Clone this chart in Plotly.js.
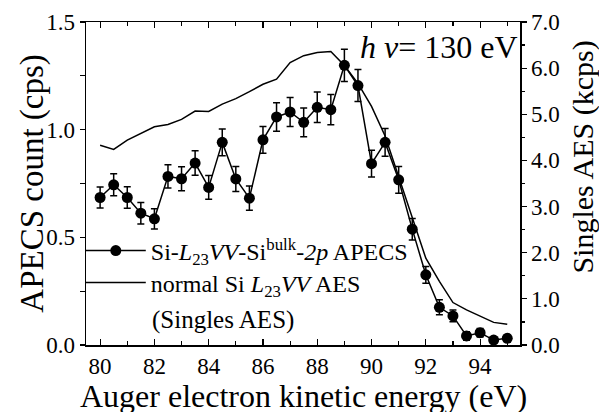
<!DOCTYPE html>
<html>
<head>
<meta charset="utf-8">
<script src="https://cdn.plot.ly/plotly-3.0.1.min.js"></script>
<style>
html,body{margin:0;padding:0;background:#fff}
#chart{width:599px;height:412px}
</style>
</head>
<body>
<div id="chart"></div>
<script>
var energy = [80,80.5,81,81.5,82,82.5,83,83.5,84,84.5,85,85.5,86,86.5,87,87.5,88,88.5,89,89.5,90,90.5,91,91.5,92,92.5,93,93.5,94,94.5,95];
var apecs = [0.685,0.744,0.685,0.612,0.586,0.783,0.772,0.845,0.732,0.941,0.771,0.682,0.953,1.059,1.082,1.034,1.104,1.093,1.299,1.205,0.842,0.941,0.767,0.538,0.326,0.175,0.135,0.042,0.057,0.023,0.031];
var apecsErr = [0.049,0.051,0.05,0.05,0.047,0.054,0.056,0.057,0.055,0.062,0.058,0.056,0.062,0.066,0.067,0.067,0.071,0.07,0.075,0.074,0.062,0.064,0.062,0.05,0.039,0.035,0.027,0.02,0.02,0.015,0.015];
var singles = [4.33,4.24,4.44,4.58,4.73,4.78,4.89,5.07,5.06,5.22,5.34,5.49,5.65,5.76,6.12,6.27,6.34,6.36,6.06,5.67,5.17,4.53,3.66,2.79,1.88,1.38,0.92,0.76,0.62,0.49,0.45];

function serif(size) { return {family: 'Liberation Serif', size: size, color: '#000'}; }

var traces = [
  {
    x: energy, y: apecs, type: 'scatter', mode: 'lines+markers',
    name: 'Si-<i>L</i><sub>23</sub><i>VV</i>-Si<sup>bulk</sup>-<i>2p</i> APECS',
    line: {color: '#000', width: 1.5},
    marker: {color: '#000', size: 11, symbol: 'circle'},
    error_y: {type: 'data', array: apecsErr, visible: true, color: '#000', thickness: 1.5, width: 3.5},
    yaxis: 'y', legend: 'legend'
  },
  {
    x: energy, y: singles, type: 'scatter', mode: 'lines',
    name: 'normal Si <i>L</i><sub>23</sub><i>VV</i> AES',
    line: {color: '#000', width: 1.5},
    yaxis: 'y2', legend: 'legend2'
  }
];

var legendBase = {
  xanchor: 'left', yanchor: 'middle',
  bgcolor: 'rgba(0,0,0,0)', borderwidth: 0,
  font: serif(24), itemwidth: 60, tracegroupgap: 0
};

var layout = {
  width: 599, height: 412,
  margin: {l: 86, r: 79, t: 22, b: 67},
  paper_bgcolor: '#fff', plot_bgcolor: '#fff',
  font: serif(23),
  showlegend: true,
  legend: Object.assign({}, legendBase, {x: -0.012, y: 0.291}),
  legend2: Object.assign({}, legendBase, {x: -0.012, y: 0.192}),
  xaxis: {
    range: [79.48, 95.47], dtick: 2, tick0: 80,
    ticks: 'inside', ticklen: 6, tickwidth: 1.2, tickcolor: '#000',
    minor: {dtick: 1, ticks: 'inside', ticklen: 4, tickcolor: '#000'},
    showline: true, linecolor: '#000', linewidth: 1.5, mirror: 'ticks',
    showgrid: false, zeroline: false,
    tickfont: serif(23)
  },
  yaxis: {
    range: [0, 1.5], dtick: 0.5, tick0: 0, tickformat: '.1f',
    ticks: 'outside', ticklen: 5, tickwidth: 1.2, tickcolor: '#000',
    minor: {dtick: 0.25, ticks: 'outside', ticklen: 5, tickcolor: '#000'},
    showline: true, linecolor: '#000', linewidth: 1.5,
    showgrid: false, zeroline: false,
    tickfont: serif(23)
  },
  yaxis2: {
    overlaying: 'y', side: 'right',
    range: [0, 7], dtick: 1, tick0: 0, tickformat: '.1f',
    ticks: 'outside', ticklen: 5, tickwidth: 1.2, tickcolor: '#000',
    minor: {dtick: 0.5, ticks: 'outside', ticklen: 3, tickcolor: '#000'},
    showline: true, linecolor: '#000', linewidth: 1.5,
    showgrid: false, zeroline: false,
    tickfont: serif(23)
  },
  annotations: [
    {xref: 'paper', yref: 'paper', x: 0.5, y: -0.158, xanchor: 'center', yanchor: 'middle',
     text: 'Auger electron kinetic energy (eV)', showarrow: false, font: serif(32)},
    {xref: 'paper', yref: 'paper', x: -0.124, y: 0.5, xanchor: 'center', yanchor: 'middle', textangle: -90,
     text: 'APECS count (cps)', showarrow: false, font: serif(33)},
    {xref: 'paper', yref: 'paper', x: 1.145, y: 0.583, xanchor: 'center', yanchor: 'middle', textangle: -90,
     text: 'Singles AES (kcps)', showarrow: false, font: serif(30)},
    {xref: 'paper', yref: 'paper', x: 1.0, y: 0.924, xanchor: 'right', yanchor: 'middle',
     text: '<i>h ν</i>= 130 eV', showarrow: false, font: serif(32)},
    {xref: 'paper', yref: 'paper', x: 0.147, y: 0.0775, xanchor: 'left', yanchor: 'middle',
     text: '(Singles AES)', showarrow: false, font: serif(25)}
  ]
};

Plotly.newPlot('chart', traces, layout, {displayModeBar: false, staticPlot: true});
</script>
</body>
</html>
